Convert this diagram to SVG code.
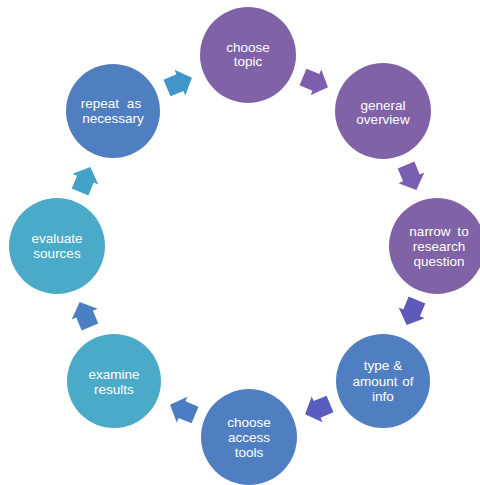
<svg xmlns="http://www.w3.org/2000/svg" width="480" height="485" viewBox="0 0 480 485">
<defs>
<style>
.n text{font-family:"Liberation Sans",Arial,sans-serif;font-size:13.5px;fill:#ffffff;text-anchor:middle}
.p{fill:#8063A6}
.b{fill:#4F7FC1}
.t{fill:#4AAAC8}
</style>
<path id="arr" d="M-13,-9 L1,-9 L1,-14 L14,0 L1,14 L1,9 L-13,9 Z"/>
</defs>
<rect width="480" height="485" fill="#ffffff"/>
<g id="connectors">
<use href="#arr" transform="translate(315,82) rotate(22.5)" fill="#7C5FAD"/>
<use href="#arr" transform="translate(411,177) rotate(67.5)" fill="#7A5EB0"/>
<use href="#arr" transform="translate(412,312) rotate(112.5)" fill="#5D59B8"/>
<use href="#arr" transform="translate(318,409) rotate(157.5)" fill="#5A5CBE"/>
<use href="#arr" transform="translate(183,410) rotate(202.5)" fill="#4E7CC4"/>
<use href="#arr" transform="translate(85,315) rotate(247.5)" fill="#4B7FC4"/>
<use href="#arr" transform="translate(85,180) rotate(292.5)" fill="#44A2C8"/>
<use href="#arr" transform="translate(179,83) rotate(337.5)" fill="#3F96C8"/>
</g>
<g id="n1" class="n"><circle class="p" cx="248" cy="55" r="48"/><text x="248" y="52">choose</text><text x="248" y="66">topic</text></g>
<g id="n2" class="n"><circle class="p" cx="383" cy="111" r="48"/><text x="383" y="110">general</text><text x="383" y="124">overview</text></g>
<g id="n3" class="n"><circle class="p" cx="437" cy="246" r="48"/><text x="439" y="236" word-spacing="3">narrow to</text><text x="439" y="251">research</text><text x="439" y="266">question</text></g>
<g id="n4" class="n"><circle class="b" cx="383" cy="381" r="47"/><text x="383" y="370">type &amp;</text><text x="383" y="386" word-spacing="1">amount of</text><text x="383" y="401">info</text></g>
<g id="n5" class="n"><circle class="b" cx="249" cy="437" r="48"/><text x="249" y="427">choose</text><text x="249" y="442">access</text><text x="249" y="457">tools</text></g>
<g id="n6" class="n"><circle class="t" cx="114" cy="381" r="47"/><text x="114" y="379">examine</text><text x="114" y="394">results</text></g>
<g id="n7" class="n"><circle class="t" cx="57" cy="246" r="48"/><text x="57" y="243">evaluate</text><text x="57" y="258">sources</text></g>
<g id="n8" class="n"><circle class="b" cx="113" cy="111" r="47"/><text x="111" y="108" word-spacing="4">repeat as</text><text x="113" y="123">necessary</text></g>
</svg>
